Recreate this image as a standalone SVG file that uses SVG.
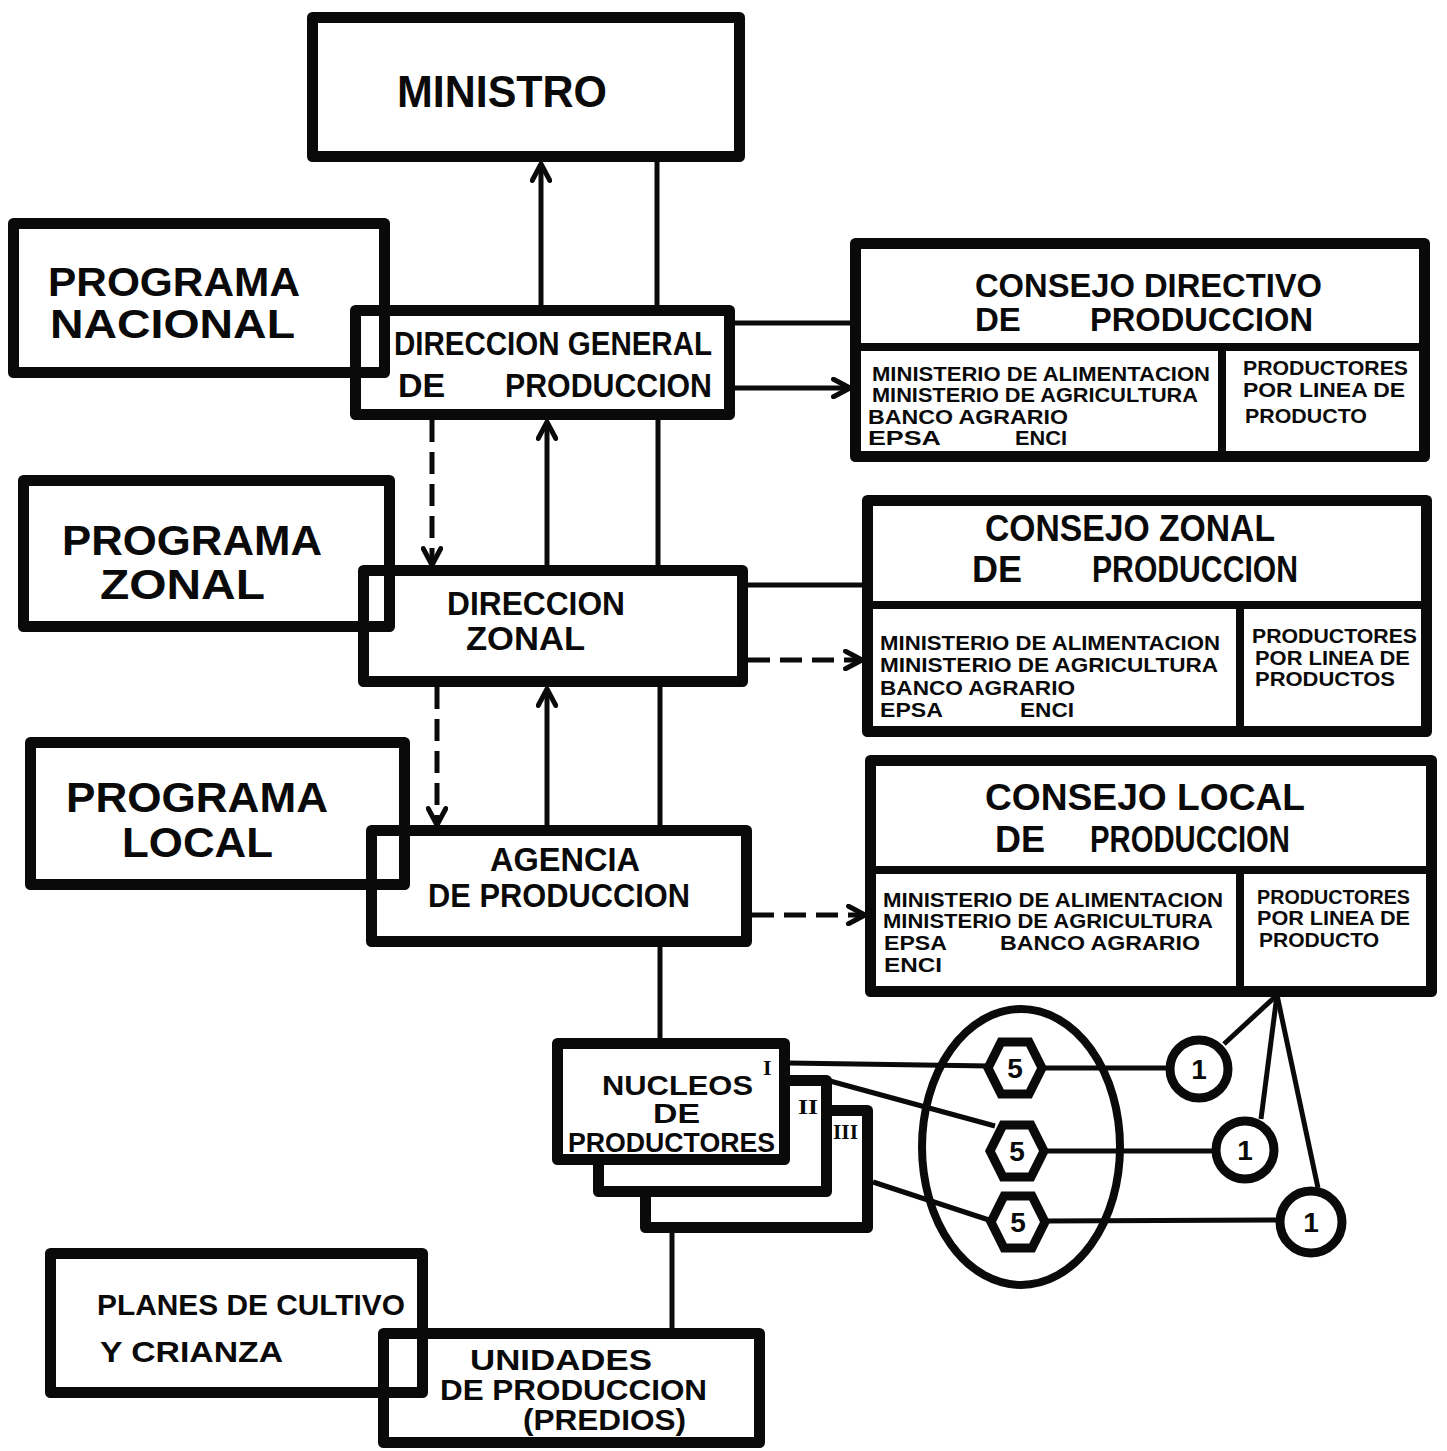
<svg xmlns="http://www.w3.org/2000/svg" width="1447" height="1451" viewBox="0 0 1447 1451">
<defs>
<style>
.box{fill:none;stroke:#0a0a0a;stroke-width:11;stroke-linejoin:round}
.boxw{fill:#fff;stroke:#0a0a0a;stroke-width:11;stroke-linejoin:round}
.div{stroke:#0a0a0a;stroke-width:8;fill:none}
.ln{stroke:#0a0a0a;stroke-width:5;fill:none}
.dash{stroke:#0a0a0a;stroke-width:5;fill:none;stroke-dasharray:22 10}
.sym{fill:#fff;stroke:#0a0a0a;stroke-width:9}
text{font-family:"Liberation Sans",Arial,sans-serif;font-weight:bold;fill:#0a0a0a}
.big{font-size:42px}
.big2{font-size:40px}
.mid{font-size:34px}
.ttl{font-size:36px}
.ttl2{font-size:33px}
.sm{font-size:20.5px}
.nuc{font-size:27px}
.low{font-size:29px}
.num{font-size:28px}
.rom{font-family:"Liberation Serif","Times New Roman",serif;font-size:22px}
</style>
<marker id="ah" viewBox="0 0 20 20" refX="18" refY="10" markerWidth="22" markerHeight="22" markerUnits="userSpaceOnUse" orient="auto">
<path d="M3,2 L18,10 L3,18" fill="none" stroke="#0a0a0a" stroke-width="4.5" stroke-linecap="round" stroke-linejoin="round"/>
</marker>
</defs>
<rect width="1447" height="1451" fill="#fff"/>

<g id="connectors">
<line class="ln" x1="541" y1="305" x2="541" y2="164" marker-end="url(#ah)"/>
<line class="ln" x1="657" y1="162" x2="657" y2="305"/>
<line class="ln" x1="735" y1="323" x2="855" y2="323"/>
<line class="ln" x1="735" y1="388" x2="850" y2="388" marker-end="url(#ah)"/>
<line class="dash" x1="432" y1="420" x2="432" y2="565" marker-end="url(#ah)"/>
<line class="ln" x1="547" y1="565" x2="547" y2="422" marker-end="url(#ah)"/>
<line class="ln" x1="658" y1="420" x2="658" y2="565"/>
<line class="ln" x1="748" y1="585" x2="867" y2="585"/>
<line class="dash" x1="748" y1="660" x2="862" y2="660" marker-end="url(#ah)"/>
<line class="dash" x1="437" y1="687" x2="437" y2="825" marker-end="url(#ah)"/>
<line class="ln" x1="547" y1="825" x2="547" y2="689" marker-end="url(#ah)"/>
<line class="ln" x1="660" y1="687" x2="660" y2="825"/>
<line class="dash" x1="752" y1="915" x2="865" y2="915" marker-end="url(#ah)"/>
<line class="ln" x1="660" y1="947" x2="660" y2="1040"/>
<line class="ln" x1="672" y1="1233" x2="672" y2="1333"/>
<line class="ln" x1="788" y1="1063" x2="990" y2="1066"/>
<line class="ln" x1="1040" y1="1068" x2="1168" y2="1068"/>
<line class="ln" x1="830" y1="1081" x2="995" y2="1126"/>
<line class="ln" x1="1044" y1="1151" x2="1214" y2="1151"/>
<line class="ln" x1="873" y1="1182" x2="992" y2="1221"/>
<line class="ln" x1="1046" y1="1221" x2="1279" y2="1220"/>
<line class="ln" x1="1277" y1="995" x2="1224" y2="1044"/>
<line class="ln" x1="1277" y1="995" x2="1261" y2="1119"/>
<line class="ln" x1="1277" y1="995" x2="1318" y2="1188"/>
</g>

<g id="ministro">
<rect class="box" x="312.5" y="17.5" width="427" height="139"/>
<text x="397" y="107" font-size="44" textLength="210" lengthAdjust="spacingAndGlyphs">MINISTRO</text>
</g>

<g id="programa-nacional">
<rect class="box" x="13.5" y="223.5" width="371" height="149"/>
<text class="big2" x="48" y="296" textLength="252" lengthAdjust="spacingAndGlyphs">PROGRAMA</text>
<text class="big2" x="50" y="338" textLength="245" lengthAdjust="spacingAndGlyphs">NACIONAL</text>
</g>

<g id="direccion-general">
<rect class="box" x="355.5" y="310.5" width="374" height="104"/>
<text class="mid" x="394" y="355" textLength="318" lengthAdjust="spacingAndGlyphs">DIRECCION GENERAL</text>
<text class="mid"><tspan x="398" y="397">DE</tspan> <tspan x="505" y="397" textLength="207" lengthAdjust="spacingAndGlyphs">PRODUCCION</tspan></text>
</g>

<g id="consejo-directivo">
<rect class="box" x="855.5" y="243.5" width="569" height="213"/>
<line class="div" x1="856" y1="347" x2="1424" y2="347"/>
<line class="div" x1="1222" y1="347" x2="1222" y2="456"/>
<text class="ttl2" x="975" y="297" textLength="347" lengthAdjust="spacingAndGlyphs">CONSEJO DIRECTIVO</text>
<text class="ttl2"><tspan x="975" y="331">DE</tspan> <tspan x="1090" y="331" textLength="223" lengthAdjust="spacingAndGlyphs">PRODUCCION</tspan></text>
<text class="sm" x="872" y="381" textLength="338" lengthAdjust="spacingAndGlyphs">MINISTERIO DE ALIMENTACION</text>
<text class="sm" x="872" y="402" textLength="326" lengthAdjust="spacingAndGlyphs">MINISTERIO DE AGRICULTURA</text>
<text class="sm" x="868" y="424" textLength="200" lengthAdjust="spacingAndGlyphs">BANCO AGRARIO</text>
<text class="sm"><tspan x="868" y="445" textLength="72" lengthAdjust="spacingAndGlyphs">EPSA</tspan> <tspan x="1015" y="445" textLength="52" lengthAdjust="spacingAndGlyphs">ENCI</tspan></text>
<text class="sm" x="1243" y="375" textLength="165" lengthAdjust="spacingAndGlyphs">PRODUCTORES</text>
<text class="sm" x="1243" y="397" textLength="162" lengthAdjust="spacingAndGlyphs">POR LINEA DE</text>
<text class="sm" x="1245" y="423" textLength="122" lengthAdjust="spacingAndGlyphs">PRODUCTO</text>
</g>

<g id="programa-zonal">
<rect class="box" x="23.5" y="480.5" width="366" height="146"/>
<text class="big" x="62" y="555" textLength="260" lengthAdjust="spacingAndGlyphs">PROGRAMA</text>
<text class="big" x="100" y="599" textLength="165" lengthAdjust="spacingAndGlyphs">ZONAL</text>
</g>

<g id="direccion-zonal">
<rect class="box" x="363.5" y="570.5" width="379" height="111"/>
<text class="mid" x="447" y="615" textLength="178" lengthAdjust="spacingAndGlyphs">DIRECCION</text>
<text class="mid" x="466" y="650" textLength="119" lengthAdjust="spacingAndGlyphs">ZONAL</text>
</g>

<g id="consejo-zonal">
<rect class="box" x="867.5" y="500.5" width="559" height="231"/>
<line class="div" x1="868" y1="605" x2="1426" y2="605"/>
<line class="div" x1="1240" y1="605" x2="1240" y2="731"/>
<text class="ttl" x="985" y="541" textLength="290" lengthAdjust="spacingAndGlyphs">CONSEJO ZONAL</text>
<text class="ttl"><tspan x="972" y="582">DE</tspan> <tspan x="1092" y="582" textLength="206" lengthAdjust="spacingAndGlyphs">PRODUCCION</tspan></text>
<text class="sm" x="880" y="650" textLength="340" lengthAdjust="spacingAndGlyphs">MINISTERIO DE ALIMENTACION</text>
<text class="sm" x="880" y="672" textLength="338" lengthAdjust="spacingAndGlyphs">MINISTERIO DE AGRICULTURA</text>
<text class="sm" x="880" y="695" textLength="195" lengthAdjust="spacingAndGlyphs">BANCO AGRARIO</text>
<text class="sm"><tspan x="880" y="717" textLength="62" lengthAdjust="spacingAndGlyphs">EPSA</tspan> <tspan x="1020" y="717" textLength="54" lengthAdjust="spacingAndGlyphs">ENCI</tspan></text>
<text class="sm" x="1252" y="643" textLength="165" lengthAdjust="spacingAndGlyphs">PRODUCTORES</text>
<text class="sm" x="1255" y="665" textLength="155" lengthAdjust="spacingAndGlyphs">POR LINEA DE</text>
<text class="sm" x="1255" y="686" textLength="140" lengthAdjust="spacingAndGlyphs">PRODUCTOS</text>
</g>

<g id="programa-local">
<rect class="box" x="30.5" y="742.5" width="374" height="142"/>
<text class="big" x="66" y="812" textLength="262" lengthAdjust="spacingAndGlyphs">PROGRAMA</text>
<text class="big" x="122" y="857" textLength="151" lengthAdjust="spacingAndGlyphs">LOCAL</text>
</g>

<g id="agencia">
<rect class="box" x="371.5" y="830.5" width="375" height="111"/>
<text class="mid" x="490" y="871" textLength="150" lengthAdjust="spacingAndGlyphs">AGENCIA</text>
<text class="mid" x="428" y="907" textLength="262" lengthAdjust="spacingAndGlyphs">DE PRODUCCION</text>
</g>

<g id="consejo-local">
<rect class="box" x="870.5" y="760.5" width="561" height="231"/>
<line class="div" x1="871" y1="870" x2="1431" y2="870"/>
<line class="div" x1="1240" y1="870" x2="1240" y2="991"/>
<text class="ttl" x="985" y="810" textLength="320" lengthAdjust="spacingAndGlyphs">CONSEJO LOCAL</text>
<text class="ttl"><tspan x="995" y="852">DE</tspan> <tspan x="1090" y="852" textLength="200" lengthAdjust="spacingAndGlyphs">PRODUCCION</tspan></text>
<text class="sm" x="883" y="907" textLength="340" lengthAdjust="spacingAndGlyphs">MINISTERIO DE ALIMENTACION</text>
<text class="sm" x="883" y="928" textLength="330" lengthAdjust="spacingAndGlyphs">MINISTERIO DE AGRICULTURA</text>
<text class="sm"><tspan x="884" y="950" textLength="62" lengthAdjust="spacingAndGlyphs">EPSA</tspan> <tspan x="1000" y="950" textLength="200" lengthAdjust="spacingAndGlyphs">BANCO AGRARIO</tspan></text>
<text class="sm" x="884" y="972" textLength="58" lengthAdjust="spacingAndGlyphs">ENCI</text>
<text class="sm" x="1257" y="904" textLength="153" lengthAdjust="spacingAndGlyphs">PRODUCTORES</text>
<text class="sm" x="1257" y="925" textLength="153" lengthAdjust="spacingAndGlyphs">POR LINEA DE</text>
<text class="sm" x="1259" y="947" textLength="120" lengthAdjust="spacingAndGlyphs">PRODUCTO</text>
</g>

<g id="nucleos">
<rect class="boxw" x="645.5" y="1110.5" width="222" height="117"/>
<rect class="boxw" x="598.5" y="1080.5" width="228" height="111"/>
<rect class="boxw" x="557.5" y="1043.5" width="227" height="116"/>
<text class="nuc" x="602" y="1095" textLength="151" lengthAdjust="spacingAndGlyphs">NUCLEOS</text>
<text class="nuc" x="653" y="1123" textLength="47" lengthAdjust="spacingAndGlyphs">DE</text>
<text class="nuc" x="568" y="1152" textLength="207" lengthAdjust="spacingAndGlyphs">PRODUCTORES</text>
<text class="rom" x="763" y="1075">I</text>
<text class="rom" x="798" y="1114" textLength="20" lengthAdjust="spacingAndGlyphs">II</text>
<text class="rom" x="833" y="1139" textLength="25" lengthAdjust="spacingAndGlyphs">III</text>
</g>

<g id="grupo">
<ellipse cx="1021" cy="1147" rx="99" ry="138" fill="none" stroke="#0a0a0a" stroke-width="8"/>
</g>

<g id="hex1">
<polygon class="sym" points="988,1068 1001,1042 1029,1042 1042,1068 1029,1094 1001,1094"/>
<text class="num" x="1015" y="1078" text-anchor="middle">5</text>
</g>
<g id="hex2">
<polygon class="sym" points="990,1151 1003,1125 1031,1125 1044,1151 1031,1177 1003,1177"/>
<text class="num" x="1017" y="1161" text-anchor="middle">5</text>
</g>
<g id="hex3">
<polygon class="sym" points="991,1222 1004,1196 1032,1196 1045,1222 1032,1248 1004,1248"/>
<text class="num" x="1018" y="1232" text-anchor="middle">5</text>
</g>

<g id="circ1">
<circle class="sym" cx="1199" cy="1069" r="29"/>
<text class="num" x="1199" y="1079" text-anchor="middle">1</text>
</g>
<g id="circ2">
<circle class="sym" cx="1245" cy="1150" r="29"/>
<text class="num" x="1245" y="1160" text-anchor="middle">1</text>
</g>
<g id="circ3">
<circle class="sym" cx="1311" cy="1222" r="31"/>
<text class="num" x="1311" y="1232" text-anchor="middle">1</text>
</g>

<g id="planes">
<rect class="box" x="50.5" y="1253.5" width="372" height="139"/>
<text font-size="30" x="97" y="1315" textLength="308" lengthAdjust="spacingAndGlyphs">PLANES DE CULTIVO</text>
<text font-size="30" x="100" y="1362" textLength="183" lengthAdjust="spacingAndGlyphs">Y CRIANZA</text>
</g>

<g id="unidades">
<rect class="box" x="383.5" y="1333.5" width="376" height="109"/>
<text class="low" x="470" y="1370" textLength="182" lengthAdjust="spacingAndGlyphs">UNIDADES</text>
<text class="low" x="440" y="1400" textLength="267" lengthAdjust="spacingAndGlyphs">DE PRODUCCION</text>
<text class="low" x="523" y="1430" textLength="163" lengthAdjust="spacingAndGlyphs">(PREDIOS)</text>
</g>
</svg>
